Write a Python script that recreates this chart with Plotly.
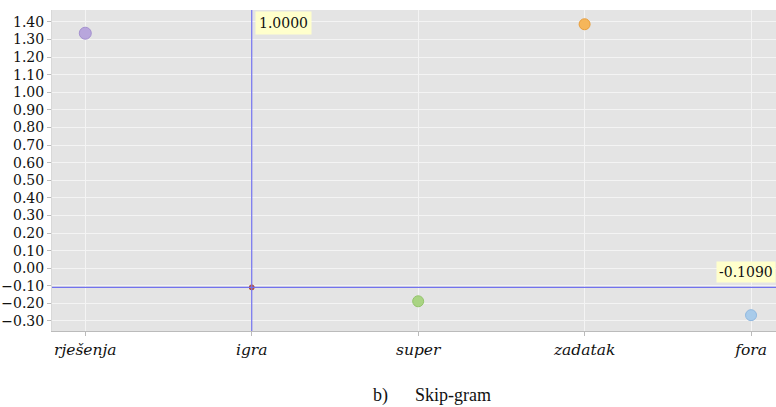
import plotly.graph_objects as go

categories = ["rješenja", "igra", "super", "zadatak", "fora"]
values = [1.336, -0.109, -0.188, 1.387, -0.267]
colors = ["#b8a6dc", "#c0583a", "#a9d483", "#f5b65a", "#a8cbea"]
edge_colors = ["#a491cf", "#b04a30", "#94c46c", "#e89e3c", "#90b8e0"]
sizes = [12, 5, 11, 11, 11]
cross_x_label = "1.0000"
cross_y_label = "-0.1090"
cross_y = -0.109
cross_cat = "igra"
caption = "b)&nbsp;&nbsp;&nbsp;&nbsp;&nbsp;&nbsp;Skip-gram"

fig = go.Figure()
fig.add_shape(type="line", xref="x", yref="paper", x0=cross_cat, x1=cross_cat, y0=0, y1=1,
              line=dict(color="#7272ee", width=1.2))
fig.add_shape(type="line", xref="paper", yref="y", x0=0, x1=1, y0=cross_y, y1=cross_y,
              line=dict(color="#7272ee", width=1.2))

for c, v, col, ec, s in zip(categories, values, colors, edge_colors, sizes):
    fig.add_trace(go.Scatter(x=[c], y=[v], mode="markers",
                             marker=dict(color=col, size=s, line=dict(width=1, color=ec)),
                             showlegend=False))

lab_font = dict(family="DejaVu Serif", size=14, color="#111")
fig.add_annotation(x=cross_cat, y=1, xref="x", yref="paper", text=cross_x_label,
                   showarrow=False, xanchor="left", yanchor="top", xshift=3, yshift=-1,
                   bgcolor="#ffffcc", font=lab_font, borderpad=3)
fig.add_annotation(x=1, y=cross_y, xref="paper", yref="y", text=cross_y_label,
                   showarrow=False, xanchor="right", yanchor="bottom", yshift=4,
                   bgcolor="#ffffcc", font=lab_font, borderpad=2)
fig.add_annotation(x=0.525, y=0, xref="paper", yref="paper", yshift=-52, text=caption,
                   showarrow=False, xanchor="center", yanchor="top",
                   font=dict(family="Liberation Serif", size=18, color="#111"))

fig.update_xaxes(type="category", range=[-0.2, 4.15], showgrid=True, gridcolor="#f4f4f4",
                 gridwidth=1, ticks="outside", ticklen=4, tickcolor="#bbbbbb",
                 showline=True, linecolor="#bbbbbb", zeroline=False,
                 tickfont=dict(family="DejaVu Serif", size=15.5, color="#111", style="italic"))
fig.update_yaxes(range=[-0.357, 1.468], dtick=0.1, tick0=0, tickformat=".2f",
                 showgrid=True, gridcolor="#f4f4f4", gridwidth=1, ticks="outside", ticklen=4,
                 tickcolor="#bbbbbb", showline=True, linecolor="#d8d8d8", zeroline=False,
                 tickfont=dict(family="DejaVu Serif", size=14, color="#111"))

fig.update_layout(width=776, height=407, margin=dict(l=52, r=0, t=10, b=76),
                  plot_bgcolor="#e4e4e4", paper_bgcolor="white")
fig.write_html("out.html", config={"displayModeBar": False},
               post_script="document.body.style.margin='0';document.body.style.overflow='hidden';")
